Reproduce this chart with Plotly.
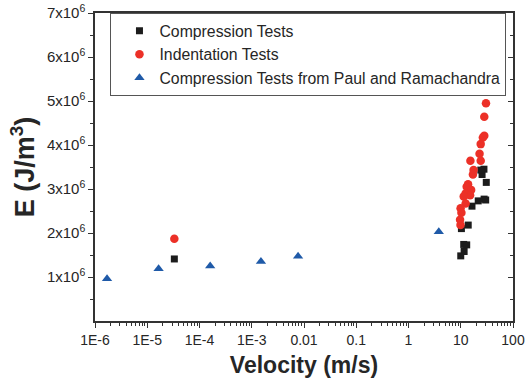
import plotly.graph_objects as go

# Data
comp_v = [3.3e-5, 10.0, 11.6, 11.4, 13.0, 10.3, 13.9, 16.4, 21.6, 28.0, 30.0, 30.8, 25.6, 27.8, 24.2]
comp_E = [1.41e6, 1.48e6, 1.58e6, 1.74e6, 1.73e6, 2.10e6, 2.18e6, 2.61e6, 2.73e6, 2.77e6, 2.75e6, 3.15e6, 3.33e6, 3.45e6, 3.43e6]

ind_v = [3.3e-5, 30.4, 28.2, 28.2, 26.5, 24.1, 22.9, 24.1, 15.3, 17.6, 17.1, 13.8, 13.0, 15.8, 12.4,
         15.1, 11.4, 12.4, 9.93, 10.3, 9.7, 9.9]
ind_E = [1.87e6, 4.95e6, 4.64e6, 4.21e6, 4.17e6, 4.02e6, 3.80e6, 3.64e6, 3.64e6, 3.43e6, 3.33e6, 3.11e6,
         3.05e6, 2.98e6, 2.90e6, 2.86e6, 2.83e6, 2.67e6, 2.56e6, 2.46e6, 2.30e6, 2.18e6]

paul_v = [1.7e-6, 1.65e-5, 1.6e-4, 1.5e-3, 7.7e-3, 3.8]
paul_E = [0.96e6, 1.19e6, 1.25e6, 1.35e6, 1.47e6, 2.03e6]

x_tickvals = [1e-6, 1e-5, 1e-4, 1e-3, 0.01, 0.1, 1, 10, 100]
x_ticktext = ["1E-6", "1E-5", "1E-4", "1E-3", "0.01", "0.1", "1", "10", "100"]
y_tickvals = [1e6, 2e6, 3e6, 4e6, 5e6, 6e6, 7e6]
y_ticktext = [f"{i}x10<sup>6</sup>" for i in range(1, 8)]
y_minor = [0.5e6, 1.5e6, 2.5e6, 3.5e6, 4.5e6, 5.5e6, 6.5e6]

x_minor = [m * 10.0 ** k for k in range(-6, 2) for m in range(2, 10)]

BLACK = "#1c1c1c"
RED = "#ec3027"
BLUE = "#1f5aa8"
FONT = "Liberation Sans, Arial, sans-serif"
TXT = "#262626"

fig = go.Figure()
fig.add_trace(go.Scatter(x=comp_v, y=comp_E, mode="markers", name="Compression Tests",
                         marker=dict(symbol="square", size=7, color=BLACK)))
fig.add_trace(go.Scatter(x=ind_v, y=ind_E, mode="markers", name="Indentation Tests",
                         marker=dict(symbol="circle", size=8.5, color=RED)))
fig.add_trace(go.Scatter(x=paul_v, y=paul_E, mode="markers",
                         name="Compression Tests from Paul and Ramachandra",
                         marker=dict(symbol="triangle-up", size=9, color=BLUE)))
# invisible trace for right axis with inside ticks
fig.add_trace(go.Scatter(x=[1e-6], y=[0], yaxis="y2", mode="markers",
                         marker=dict(opacity=0), showlegend=False, hoverinfo="skip"))

fig.update_layout(
    width=525, height=387,
    margin=dict(l=95, r=12, t=13, b=66, autoexpand=False),
    paper_bgcolor="white", plot_bgcolor="white",
    font=dict(family=FONT, color=TXT, size=14),
    xaxis=dict(
        type="log", range=[-6, 2], automargin=False,
        tickmode="array", tickvals=x_tickvals, ticktext=x_ticktext,
        ticks="outside", ticklen=5, tickwidth=1.2, tickcolor="#333",
        showline=True, linecolor="#333", linewidth=1.5, mirror=True,
        showgrid=False, zeroline=False,
        tickfont=dict(size=14, family=FONT, color=TXT),
        minor=dict(tickmode="array", tickvals=x_minor, ticks="outside", ticklen=3,
                   tickwidth=1, tickcolor="#333", showgrid=False),
        title=dict(text="<b>Velocity (m/s)</b>", font=dict(size=23, family=FONT, color=TXT),
                   standoff=10),
    ),
    yaxis=dict(
        range=[0, 7e6], automargin=False,
        tickmode="array", tickvals=y_tickvals, ticktext=y_ticktext,
        ticks="outside", ticklen=5, tickwidth=1.2, tickcolor="#333",
        showline=True, linecolor="#333", linewidth=1.5, mirror=True,
        showgrid=False, zeroline=False,
        tickfont=dict(size=15, family=FONT, color=TXT),
        minor=dict(tickmode="array", tickvals=y_minor,
                   ticks="outside", ticklen=3, tickwidth=1, tickcolor="#333", showgrid=False),
        title=dict(text="<b>E (J/m<sup>3</sup>)</b>", font=dict(size=27, family=FONT, color=TXT),
                   standoff=4),
    ),
    yaxis2=dict(
        overlaying="y", side="right", range=[0, 7e6], automargin=False,
        tickmode="array", tickvals=y_tickvals, showticklabels=False,
        ticks="inside", ticklen=5, tickwidth=1.2, tickcolor="#333",
        showline=False, showgrid=False, zeroline=False,
        minor=dict(tickmode="array", tickvals=y_minor,
                   ticks="inside", ticklen=3, tickwidth=1, tickcolor="#333", showgrid=False),
    ),
    legend=dict(
        x=0.037, y=1.0, xanchor="left", yanchor="top",
        bgcolor="white", bordercolor="#555", borderwidth=1,
        font=dict(size=15.8, family=FONT, color=TXT),
        tracegroupgap=0, itemwidth=30, indentation=8,
    ),
    showlegend=True,
)

fig.write_html("out.html")
